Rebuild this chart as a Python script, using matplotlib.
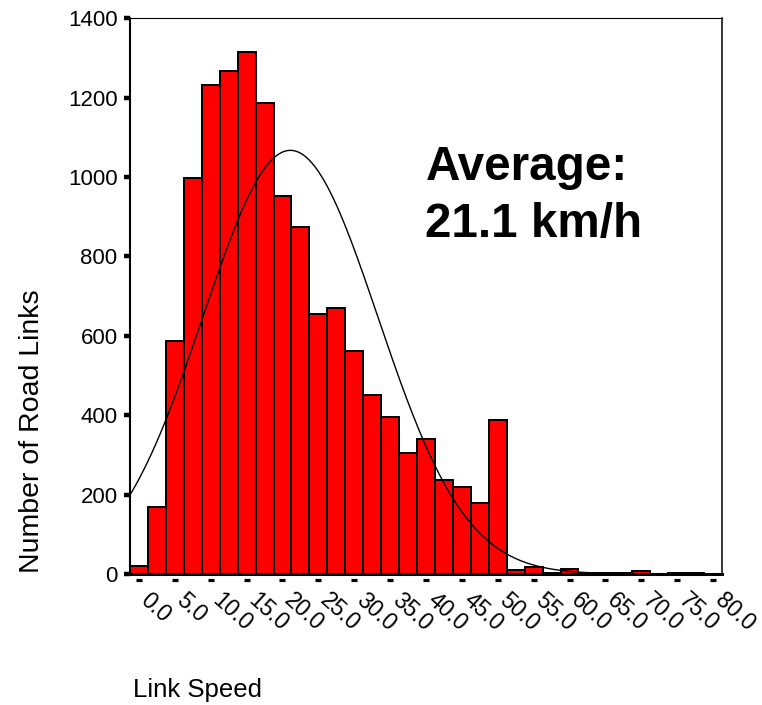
import numpy as np
import matplotlib
matplotlib.use("Agg")
import matplotlib.pyplot as plt
import matplotlib.transforms as mtransforms

# ---- data ----
bin_centers = np.arange(0, 82.5, 2.5)
counts = [21, 168, 587, 997, 1231, 1266, 1314, 1187, 953, 874, 656, 671, 562,
          450, 396, 304, 339, 236, 220, 178, 387, 10, 17, 3, 12, 2, 2, 2, 7,
          0, 2, 2, 0]
tick_values = np.arange(0, 85, 5)
tick_labels = [f"{v:.1f}" for v in tick_values]
y_ticks = [0, 200, 400, 600, 800, 1000, 1200, 1400]
mean_speed = 21.1
sd_speed = 12.2
bin_width = 2.5

plt.rcParams['font.family'] = ['Liberation Sans', 'DejaVu Sans']

W, H = 762, 705
fig = plt.figure(figsize=(W / 100, H / 100), dpi=100)
ax = fig.add_axes([130 / W, 1 - 574 / H, (722 - 130) / W, (574 - 18.3) / H])

ax.bar(bin_centers, counts, width=bin_width, color='#ff0000',
       edgecolor='black', linewidth=1.4, zorder=2)

xs = np.linspace(-1.25, 81.25, 600)
N = np.sum(counts)
ys = N * bin_width / (sd_speed * np.sqrt(2 * np.pi)) * np.exp(-(xs - mean_speed) ** 2 / (2 * sd_speed ** 2))
ax.plot(xs, ys, color='black', linewidth=1.0, zorder=3)

ax.set_xlim(-1.25, 81.25)
ax.set_ylim(0, 1400)

ax.set_yticks(y_ticks)
ax.set_yticklabels([str(v) for v in y_ticks], fontsize=16)
ax.tick_params(axis='y', direction='out', length=4, width=3.2, pad=5, color='black')

ax.set_xticks(tick_values)
ax.set_xticklabels(tick_labels, fontsize=16.5, rotation=-42, rotation_mode='anchor',
                   ha='left', va='center')
ax.tick_params(axis='x', length=0, pad=17)
shift = mtransforms.ScaledTranslation(5 / 100, 0, fig.dpi_scale_trans)
for lab in ax.get_xticklabels():
    lab.set_transform(lab.get_transform() + shift)

# detached tick marks below the x axis
trans = mtransforms.blended_transform_factory(ax.transData, ax.transAxes)
ax.plot(tick_values, np.full(len(tick_values), -0.0105), linestyle='none', marker='_',
        markersize=3.8, markeredgewidth=2.3, color='black', transform=trans,
        clip_on=False, zorder=5)

for side, lw in [('left', 1.5), ('bottom', 2.2), ('top', 0.8), ('right', 1.1)]:
    ax.spines[side].set_linewidth(lw)
    ax.spines[side].set_color('black')

fig.text(32 / W, 1 - 431.5 / H, 'Number of Road Links', rotation=90, fontsize=20.5,
         ha='center', va='center')
fig.text(133 / W, 1 - 696.7 / H, 'Link Speed', fontsize=18.5, ha='left', va='baseline')

fig.text(426 / W, 1 - 180 / H, 'Average:', fontsize=34.3, fontweight='bold',
         ha='left', va='baseline')
fig.text(425 / W, 1 - 236.7 / H, '21.1 km/h', fontsize=34.3, fontweight='bold',
         ha='left', va='baseline')

fig.savefig('out.png', dpi=100)
